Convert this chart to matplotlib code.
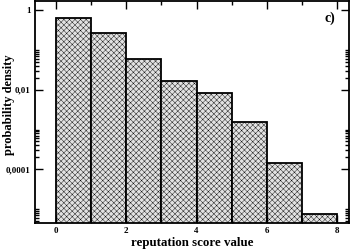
import matplotlib
matplotlib.use("Agg")
import matplotlib.pyplot as plt
from matplotlib.ticker import FixedLocator, FixedFormatter, NullFormatter

# histogram values
bin_left = [0, 1, 2, 3, 4, 5, 6, 7]
density = [0.652, 0.264, 0.0596, 0.0169, 0.00845, 0.00152, 0.000147, 7.6e-6]

x_ticks = [0, 2, 4, 6, 8]
x_minor = [1, 3, 5, 7]
y_ticks = [1, 0.01, 0.0001]
y_labels = ["1", "0,01", "0,0001"]

plt.rcParams['font.family'] = ['Liberation Serif', 'DejaVu Serif']
plt.rcParams['font.weight'] = 'bold'
plt.rcParams['hatch.linewidth'] = 0.3
plt.rcParams['hatch.color'] = '#b4b4b4'

fig = plt.figure(figsize=(3.54, 2.49), dpi=100)
ax = fig.add_axes([0.0989, 0.1032, 0.8871, 0.8916])

ax.bar(bin_left, density, width=1.0, align='edge', bottom=1e-7,
       facecolor='#e2e2e2', edgecolor='black', linewidth=1.3,
       hatch='xxxxxx')

ax.set_yscale('log')
ax.set_xlim(-0.6, 8.34)
ax.set_ylim(4.38e-6, 1.68)

ax.xaxis.set_major_locator(FixedLocator(x_ticks))
ax.xaxis.set_minor_locator(FixedLocator(x_minor))
ax.yaxis.set_major_locator(FixedLocator(y_ticks))
ax.yaxis.set_major_formatter(FixedFormatter(y_labels))
y_minor = [k * 1e-2 for k in range(2, 11)] + [k * 1e-4 for k in range(2, 11)] + [k * 1e-6 for k in range(2, 11)]
ax.yaxis.set_minor_locator(FixedLocator(y_minor))
ax.yaxis.set_minor_formatter(NullFormatter())

ax.tick_params(which='both', direction='in', top=True, right=True, width=1)
ax.tick_params(which='major', length=6, labelsize=6.5, pad=3)
ax.tick_params(which='minor', length=3)
for lab in ax.get_xticklabels() + ax.get_yticklabels():
    lab.set_fontweight('bold')
for s in ax.spines.values():
    s.set_linewidth(1.3)

ax.set_xlabel('reputation score value', fontsize=9.3, fontweight='bold', labelpad=1)
ax.set_ylabel('probability density', fontsize=9, fontweight='bold')
ax.yaxis.set_label_coords(-0.064, 0.533)
ax.text(0.94, 0.955, 'c)', transform=ax.transAxes, fontsize=10, fontweight='bold',
        ha='center', va='top')

fig.savefig('out.png', dpi=100)
